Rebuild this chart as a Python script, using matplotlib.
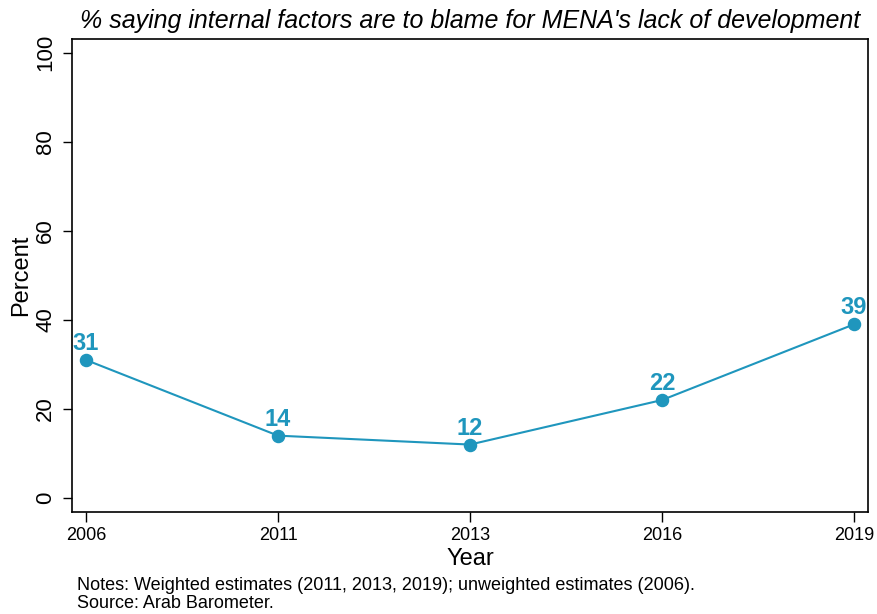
import matplotlib.pyplot as plt
import numpy as np

plt.rcParams['font.family'] = ['Liberation Sans', 'DejaVu Sans']

# Data
years = ['2006', '2011', '2013', '2016', '2019']
values = [31, 14, 12, 22, 39]
y_ticks = [0, 20, 40, 60, 80, 100]

line_color = '#1f96bd'

fig = plt.figure(figsize=(8.77, 6.14), dpi=100)
ax = fig.add_axes([72 / 877, 1 - 512 / 614, (868 - 72) / 877, (512 - 39) / 614])

x = np.arange(len(years))
ax.plot(x, values, color=line_color, lw=1.5, marker='o', markersize=8.7)
for xi, v in zip(x, values):
    ax.annotate(str(v), (xi, v), xytext=(0, 3.5), textcoords='offset points',
                ha='center', va='bottom', color=line_color,
                fontsize=17, fontweight='bold')

ax.set_xlim(-0.073, len(years) - 1 + 0.073)
ax.set_ylim(-3.15, 103.1)
ax.set_xticks(x)
ax.set_xticklabels(years, fontsize=13)
ax.set_yticks(y_ticks)
ax.set_yticklabels([str(t) for t in y_ticks], fontsize=16, rotation=90, va='center')
ax.tick_params(axis='x', length=7, width=1, color='black', pad=4)
ax.tick_params(axis='y', length=6.5, width=1, color='black', pad=5)
for s in ax.spines.values():
    s.set_linewidth(1.2)

ax.set_xlabel('Year', fontsize=17, labelpad=3)
ax.set_ylabel('Percent', fontsize=17, labelpad=2)
ax.set_title("% saying internal factors are to blame for MENA's lack of development",
             fontsize=18, style='italic', pad=8, x=0.5)

fig.text(77 / 877, 1 - 585 / 614, 'Notes: Weighted estimates (2011, 2013, 2019); unweighted estimates (2006).',
         fontsize=13, va='center')
fig.text(77 / 877, 1 - 603 / 614, 'Source: Arab Barometer.', fontsize=13, va='center')

fig.savefig('out.png', dpi=100)
